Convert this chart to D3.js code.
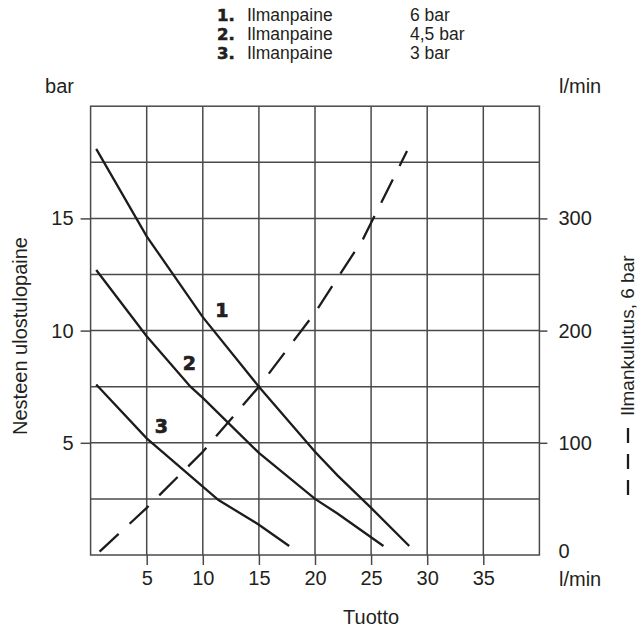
<!DOCTYPE html>
<html>
<head>
<meta charset="utf-8">
<script src="https://cdn.jsdelivr.net/npm/d3@7"></script>
<style>
  html, body { margin: 0; padding: 0; background: #fff; }
  svg text { font-family: "Liberation Sans", Arial, Helvetica, sans-serif; fill: #231f20; }
</style>
</head>
<body>
<svg id="chart" width="641" height="628"></svg>
<script>
// Flow (l/min) on x, fluid outlet pressure (bar) on left y, air consumption (l/min) on right y
const xTicks = [5, 10, 15, 20, 25, 30, 35];
const yTicks = [5, 10, 15];
const yRightTicks = [0, 100, 200, 300];

// Outlet pressure curves for three air pressures: [flow, bar]
const curve1 = [[0.5, 18.1], [5, 14.2], [10, 10.6], [15, 7.5], [20, 4.6], [22, 3.55], [25, 2.1], [28.4, 0.4]];
const curve2 = [[0.5, 12.7], [5, 9.75], [8.9, 7.5], [10, 7.0], [15, 4.55], [20, 2.5], [22, 1.85], [26.1, 0.4]];
const curve3 = [[0.5, 7.6], [5, 5.2], [10, 3.05], [11.4, 2.45], [15, 1.35], [17.7, 0.4]];

// Air consumption at 6 bar: [flow, l/min]
const airUse = [[0.8, 3], [5, 42], [10, 92], [15, 150], [20, 216], [24.3, 282], [28.2, 360]];

// Curve number labels: [number, flow, bar]
const curveLabels = [["1", 11.7, 10.9], ["2", 8.8, 8.55], ["3", 6.3, 5.75]];

const legendRows = [["1.", "Ilmanpaine", "6 bar"], ["2.", "Ilmanpaine", "4,5 bar"], ["3.", "Ilmanpaine", "3 bar"]];

const svg = d3.select("#chart");
const L = 90.6, R = 539.4, T = 106.2, B = 555;
const FS = 20;

const x = d3.scaleLinear().domain([0, 40]).range([L, R]);
const y = d3.scaleLinear().domain([0, 20]).range([B, T]);
const yR = d3.scaleLinear().domain([0, 400]).range([B, T]);

const gridColor = "#4a4a4a";
const ink = "#1c1c1c";

// Grid
const grid = svg.append("g").attr("stroke", gridColor).attr("stroke-width", 1.5);
grid.selectAll("line.v").data(d3.range(5, 40, 5)).join("line")
  .attr("x1", d => x(d)).attr("x2", d => x(d)).attr("y1", T).attr("y2", B);
grid.selectAll("line.h").data(d3.range(2.5, 20, 2.5)).join("line")
  .attr("x1", L).attr("x2", R).attr("y1", d => y(d)).attr("y2", d => y(d));
grid.append("rect").attr("x", L).attr("y", T).attr("width", R - L).attr("height", B - T)
  .attr("fill", "none");

// Axes (ticks outside the frame)
const axStyle = g => {
  g.select(".domain").remove();
  g.selectAll(".tick line").attr("stroke", gridColor).attr("stroke-width", 1.5);
  g.selectAll(".tick text").attr("font-size", FS).attr("fill", "#231f20")
    .attr("font-family", "Liberation Sans, Arial, sans-serif");
};
svg.append("g").attr("transform", `translate(0,${B})`)
  .call(d3.axisBottom(x).tickValues(xTicks).tickSize(10).tickPadding(6))
  .call(axStyle);
svg.append("g").attr("transform", `translate(${L},0)`)
  .call(d3.axisLeft(y).tickValues(yTicks).tickSize(10).tickPadding(7))
  .call(axStyle);
const rAx = svg.append("g").attr("transform", `translate(${R},0)`)
  .call(d3.axisRight(yR).tickValues(yRightTicks).tickSize(8).tickPadding(11))
  .call(axStyle);
rAx.selectAll(".tick").filter(d => d === 0).select("line").remove();
rAx.selectAll(".tick").filter(d => d === 0).select("text").attr("dy", "0.1em");

// Curves
const line = d3.line().x(d => x(d[0])).y(d => y(d[1]));
const lineR = d3.line().x(d => x(d[0])).y(d => yR(d[1]));
svg.append("g").attr("fill", "none").attr("stroke", ink).attr("stroke-width", 2.3)
  .selectAll("path").data([curve1, curve2, curve3]).join("path").attr("d", line);
svg.append("path").datum(airUse).attr("d", lineR)
  .attr("fill", "none").attr("stroke", ink).attr("stroke-width", 2.3)
  .attr("stroke-dasharray", "26,15");

svg.selectAll("text.cl").data(curveLabels).join("text")
  .attr("x", d => x(d[1])).attr("y", d => y(d[2]))
  .attr("text-anchor", "middle").attr("dominant-baseline", "central")
  .style("font-family", "'DejaVu Sans', sans-serif")
  .attr("font-size", 19).attr("font-weight", "bold")
  .attr("stroke", "#231f20").attr("stroke-width", 0.7)
  .text(d => d[0]);

// Unit labels
svg.append("text").attr("x", 74).attr("y", 93).attr("text-anchor", "end").attr("font-size", FS).text("bar");
svg.append("text").attr("x", 559).attr("y", 93).attr("font-size", FS).text("l/min");
svg.append("text").attr("x", 559).attr("y", 586).attr("font-size", FS).text("l/min");

// Axis titles
svg.append("text").attr("x", x(25)).attr("y", 624).attr("text-anchor", "middle").attr("font-size", FS).text("Tuotto");
svg.append("text").attr("transform", "translate(27,336) rotate(-90)").attr("text-anchor", "middle")
  .attr("font-size", FS).text("Nesteen ulostulopaine");
svg.append("text").attr("transform", "translate(634,416) rotate(-90)").attr("text-anchor", "start")
  .attr("font-size", 19).text("Ilmankulutus, 6 bar");
svg.append("line").attr("x1", 628).attr("x2", 628).attr("y1", 428).attr("y2", 497)
  .attr("stroke", ink).attr("stroke-width", 2.3).attr("stroke-dasharray", "15,11");

// Legend
const leg = svg.append("g");
legendRows.forEach((r, i) => {
  const by = 21 + i * 19;
  leg.append("text").attr("x", 217).attr("y", by)
    .style("font-family", "'DejaVu Sans', sans-serif")
    .attr("font-size", 16.5).attr("font-weight", "bold")
    .attr("stroke", "#231f20").attr("stroke-width", 0.6).text(r[0]);
  leg.append("text").attr("x", 247).attr("y", by).attr("font-size", 17.5).text(r[1]);
  leg.append("text").attr("x", 410).attr("y", by).attr("font-size", 17.5).text(r[2]);
});
</script>
</body>
</html>
